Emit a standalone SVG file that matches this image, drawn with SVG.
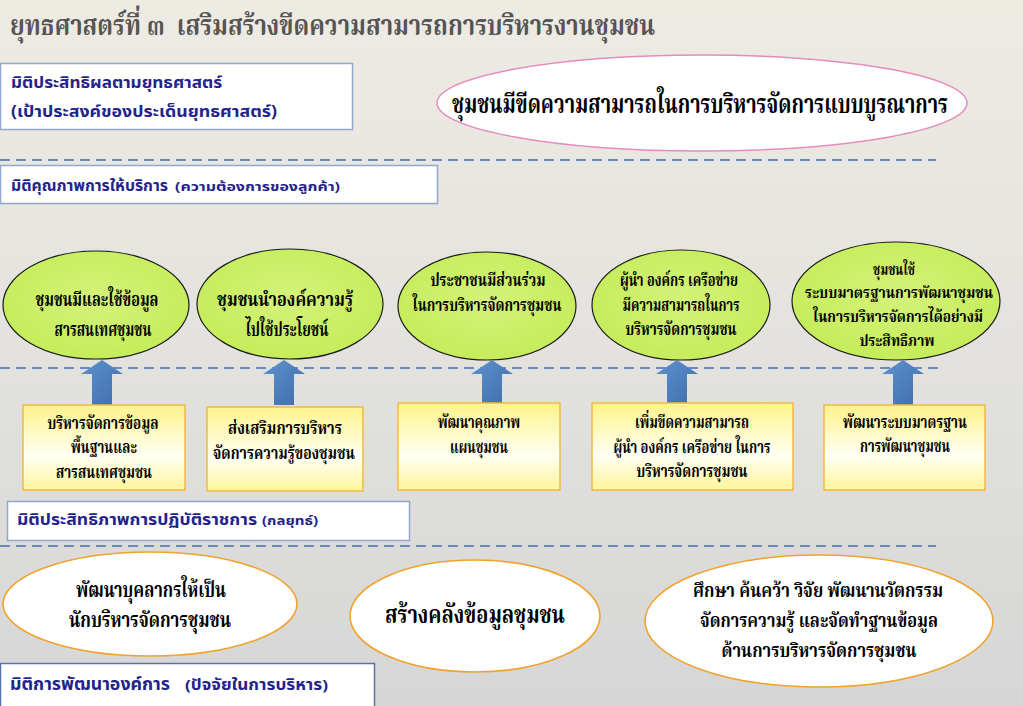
<svg xmlns="http://www.w3.org/2000/svg" width="1023" height="706" viewBox="0 0 1023 706">
<defs>
<linearGradient id="bg" x1="0" y1="0" x2="0" y2="1">
<stop offset="0" stop-color="#EEEBE3"/>
<stop offset="0.5" stop-color="#E3E2DE"/>
<stop offset="1" stop-color="#D6D6D6"/>
</linearGradient>
<linearGradient id="yel" x1="0" y1="0" x2="0" y2="1">
<stop offset="0" stop-color="#FFF38A"/>
<stop offset="0.6" stop-color="#FFFFF4"/>
<stop offset="1" stop-color="#FFF59A"/>
</linearGradient>
<radialGradient id="grn" cx="0.5" cy="0.45" r="0.6">
<stop offset="0" stop-color="#D4F27A"/>
<stop offset="1" stop-color="#C4EC58"/>
</radialGradient>
<linearGradient id="blu" x1="0" y1="0" x2="1" y2="1">
<stop offset="0" stop-color="#5F92D0"/>
<stop offset="1" stop-color="#3E6DAA"/>
</linearGradient>
<path id="uparrow" d="M-10,45 L-10,14 L-21,14 L0,0 L21,14 L10,14 L10,45 Z"/>
</defs>
<style>
.sep{stroke:#6A8BB8;stroke-width:2;stroke-dasharray:10 6;fill:none}
.lblbox{fill:#FFFFFF;stroke:#8FA8CC;stroke-width:1.5}
.lbl{font-family:'Noto Sans Thai','Liberation Sans',sans-serif;font-weight:bold;fill:#23238C}
.th{font-family:'Noto Serif Thai','Noto Sans Thai','Liberation Serif',serif;font-weight:bold;fill:#000000;text-anchor:middle}
.green{fill:url(#grn);stroke:#1A1A1A;stroke-width:1.2}
.ybox{fill:url(#yel);stroke:#F2BA45;stroke-width:1.5}
.oell{fill:#FFFFFF;stroke:#F0A22E;stroke-width:1.6}
.arrow{fill:url(#blu)}
.s16{font-size:16px}
.s17{font-size:17px}
.s20{font-size:20px}
</style>
<rect x="0" y="0" width="1023" height="706" fill="url(#bg)"/>

<text x="10" y="35" xml:space="preserve" font-family="'Noto Serif Thai','Noto Sans Thai','Liberation Serif',serif" font-weight="bold" font-size="28" fill="#555555" textLength="645" lengthAdjust="spacingAndGlyphs">ยุทธศาสตร์ที่ ๓  เสริมสร้างขีดความสามารถการบริหารงานชุมชน</text>

<g id="separators">
<line class="sep" x1="0" y1="160" x2="936" y2="160"/>
<line class="sep" x1="0" y1="368" x2="940" y2="368"/>
<line class="sep" x1="0" y1="546" x2="936" y2="546"/>
</g>

<g id="dim-effectiveness">
<rect class="lblbox" x="0.5" y="63.5" width="352" height="66"/>
<text class="lbl" x="11" y="88" font-size="16" textLength="211" lengthAdjust="spacingAndGlyphs">มิติประสิทธิผลตามยุทธศาสตร์</text>
<text class="lbl" x="11" y="117" font-size="16" textLength="266" lengthAdjust="spacingAndGlyphs">(เป้าประสงค์ของประเด็นยุทธศาสตร์)</text>
</g>

<g id="goal">
<ellipse cx="702" cy="103" rx="265" ry="48" fill="#FFFFFF" stroke="#E58CBE" stroke-width="1.5"/>
<text class="th" x="700" y="113" font-size="27" textLength="496" lengthAdjust="spacingAndGlyphs">ชุมชนมีขีดความสามารถในการบริหารจัดการแบบบูรณาการ</text>
</g>

<g id="dim-quality">
<rect class="lblbox" x="0.5" y="165.5" width="437" height="38"/>
<text class="lbl" x="11" y="191" font-size="16" textLength="157" lengthAdjust="spacingAndGlyphs">มิติคุณภาพการให้บริการ</text>
<text class="lbl" x="175" y="191" font-size="13" textLength="165" lengthAdjust="spacingAndGlyphs">(ความต้องการของลูกค้า)</text>
</g>

<g id="q1">
<ellipse class="green" cx="96" cy="305" rx="93" ry="54"/>
<text class="th s20" x="97" y="306" textLength="123" lengthAdjust="spacingAndGlyphs">ชุมชนมีและใช้ข้อมูล</text>
<text class="th s20" x="103" y="336" textLength="97" lengthAdjust="spacingAndGlyphs">สารสนเทศชุมชน</text>
</g>
<g id="q2">
<ellipse class="green" cx="290" cy="304" rx="93" ry="55"/>
<text class="th s20" x="285" y="306" textLength="136" lengthAdjust="spacingAndGlyphs">ชุมชนนำองค์ความรู้</text>
<text class="th s20" x="287" y="336" textLength="83" lengthAdjust="spacingAndGlyphs">ไปใช้ประโยชน์</text>
</g>
<g id="q3">
<ellipse class="green" cx="487" cy="306" rx="89" ry="54"/>
<text class="th s17" x="488" y="286" textLength="115" lengthAdjust="spacingAndGlyphs">ประชาชนมีส่วนร่วม</text>
<text class="th s17" x="487" y="311" textLength="149" lengthAdjust="spacingAndGlyphs">ในการบริหารจัดการชุมชน</text>
</g>
<g id="q4">
<ellipse class="green" cx="681" cy="305" rx="89" ry="55"/>
<text class="th s17" x="679" y="286" textLength="118" lengthAdjust="spacingAndGlyphs">ผู้นำ องค์กร เครือข่าย</text>
<text class="th s17" x="681" y="311" textLength="117" lengthAdjust="spacingAndGlyphs">มีความสามารถในการ</text>
<text class="th s17" x="681" y="335" textLength="111" lengthAdjust="spacingAndGlyphs">บริหารจัดการชุมชน</text>
</g>
<g id="q5">
<ellipse class="green" cx="896" cy="301" rx="104" ry="59"/>
<text class="th s16" x="894" y="275" textLength="42" lengthAdjust="spacingAndGlyphs">ชุมชนใช้</text>
<text class="th s16" x="899" y="298" textLength="188" lengthAdjust="spacingAndGlyphs">ระบบมาตรฐานการพัฒนาชุมชน</text>
<text class="th s16" x="898" y="322" textLength="170" lengthAdjust="spacingAndGlyphs">ในการบริหารจัดการได้อย่างมี</text>
<text class="th s16" x="897" y="346" textLength="75" lengthAdjust="spacingAndGlyphs">ประสิทธิภาพ</text>
</g>

<g id="connectors">
<use class="arrow" href="#uparrow" x="102" y="360"/>
<use class="arrow" href="#uparrow" x="284" y="360"/>
<use class="arrow" href="#uparrow" x="492" y="360"/>
<use class="arrow" href="#uparrow" x="677" y="360"/>
<use class="arrow" href="#uparrow" x="903" y="360"/>
</g>

<g id="s1">
<rect class="ybox" x="23" y="405" width="162" height="85"/>
<text class="th s17" x="103" y="429" textLength="111" lengthAdjust="spacingAndGlyphs">บริหารจัดการข้อมูล</text>
<text class="th s17" x="104" y="453" textLength="66" lengthAdjust="spacingAndGlyphs">พื้นฐานและ</text>
<text class="th s17" x="104" y="478" textLength="96" lengthAdjust="spacingAndGlyphs">สารสนเทศชุมชน</text>
</g>
<g id="s2">
<rect class="ybox" x="207" y="407" width="156" height="84"/>
<text class="th s17" x="285" y="434" textLength="114" lengthAdjust="spacingAndGlyphs">ส่งเสริมการบริหาร</text>
<text class="th s17" x="284" y="459" textLength="142" lengthAdjust="spacingAndGlyphs">จัดการความรู้ของชุมชน</text>
</g>
<g id="s3">
<rect class="ybox" x="398" y="403" width="162" height="87"/>
<text class="th s17" x="479" y="428" textLength="82" lengthAdjust="spacingAndGlyphs">พัฒนาคุณภาพ</text>
<text class="th s17" x="479" y="453" textLength="58" lengthAdjust="spacingAndGlyphs">แผนชุมชน</text>
</g>
<g id="s4">
<rect class="ybox" x="592" y="403" width="201" height="87"/>
<text class="th s17" x="692" y="428" textLength="114" lengthAdjust="spacingAndGlyphs">เพิ่มขีดความสามารถ</text>
<text class="th s17" x="692" y="453" textLength="157" lengthAdjust="spacingAndGlyphs">ผู้นำ องค์กร เครือข่าย ในการ</text>
<text class="th s17" x="692" y="477" textLength="111" lengthAdjust="spacingAndGlyphs">บริหารจัดการชุมชน</text>
</g>
<g id="s5">
<rect class="ybox" x="824" y="405" width="161" height="85"/>
<text class="th s17" x="905" y="428" textLength="124" lengthAdjust="spacingAndGlyphs">พัฒนาระบบมาตรฐาน</text>
<text class="th s17" x="905" y="452" textLength="90" lengthAdjust="spacingAndGlyphs">การพัฒนาชุมชน</text>
</g>

<g id="dim-efficiency">
<rect class="lblbox" x="7.5" y="501.5" width="402" height="39"/>
<text class="lbl" x="17" y="525" font-size="16" textLength="240" lengthAdjust="spacingAndGlyphs">มิติประสิทธิภาพการปฏิบัติราชการ</text>
<text class="lbl" x="262" y="525" font-size="13" textLength="56" lengthAdjust="spacingAndGlyphs">(กลยุทธ์)</text>
</g>

<g id="d1">
<ellipse class="oell" cx="150" cy="604" rx="147" ry="52"/>
<text class="th" x="151" y="597" font-size="21" textLength="150" lengthAdjust="spacingAndGlyphs">พัฒนาบุคลากรให้เป็น</text>
<text class="th" x="150" y="627" font-size="21" textLength="162" lengthAdjust="spacingAndGlyphs">นักบริหารจัดการชุมชน</text>
</g>
<g id="d2">
<ellipse class="oell" cx="475" cy="616" rx="125" ry="56"/>
<text class="th" x="475" y="623" font-size="25" textLength="180" lengthAdjust="spacingAndGlyphs">สร้างคลังข้อมูลชุมชน</text>
</g>
<g id="d3">
<ellipse class="oell" cx="819" cy="621" rx="174" ry="66"/>
<text class="th" x="818" y="597" font-size="20" textLength="250" lengthAdjust="spacingAndGlyphs">ศึกษา ค้นคว้า วิจัย พัฒนานวัตกรรม</text>
<text class="th" x="819" y="627" font-size="20" textLength="238" lengthAdjust="spacingAndGlyphs">จัดการความรู้ และจัดทำฐานข้อมูล</text>
<text class="th" x="819" y="657" font-size="20" textLength="195" lengthAdjust="spacingAndGlyphs">ด้านการบริหารจัดการชุมชน</text>
</g>

<g id="dim-organization">
<rect x="0.5" y="663.5" width="374" height="46" fill="#FFFFFF" stroke="#5672AA" stroke-width="1.5"/>
<text class="lbl" x="10" y="690" font-size="17" textLength="160" lengthAdjust="spacingAndGlyphs">มิติการพัฒนาองค์การ</text>
<text class="lbl" x="185" y="690" font-size="15" textLength="143" lengthAdjust="spacingAndGlyphs">(ปัจจัยในการบริหาร)</text>
</g>
</svg>
